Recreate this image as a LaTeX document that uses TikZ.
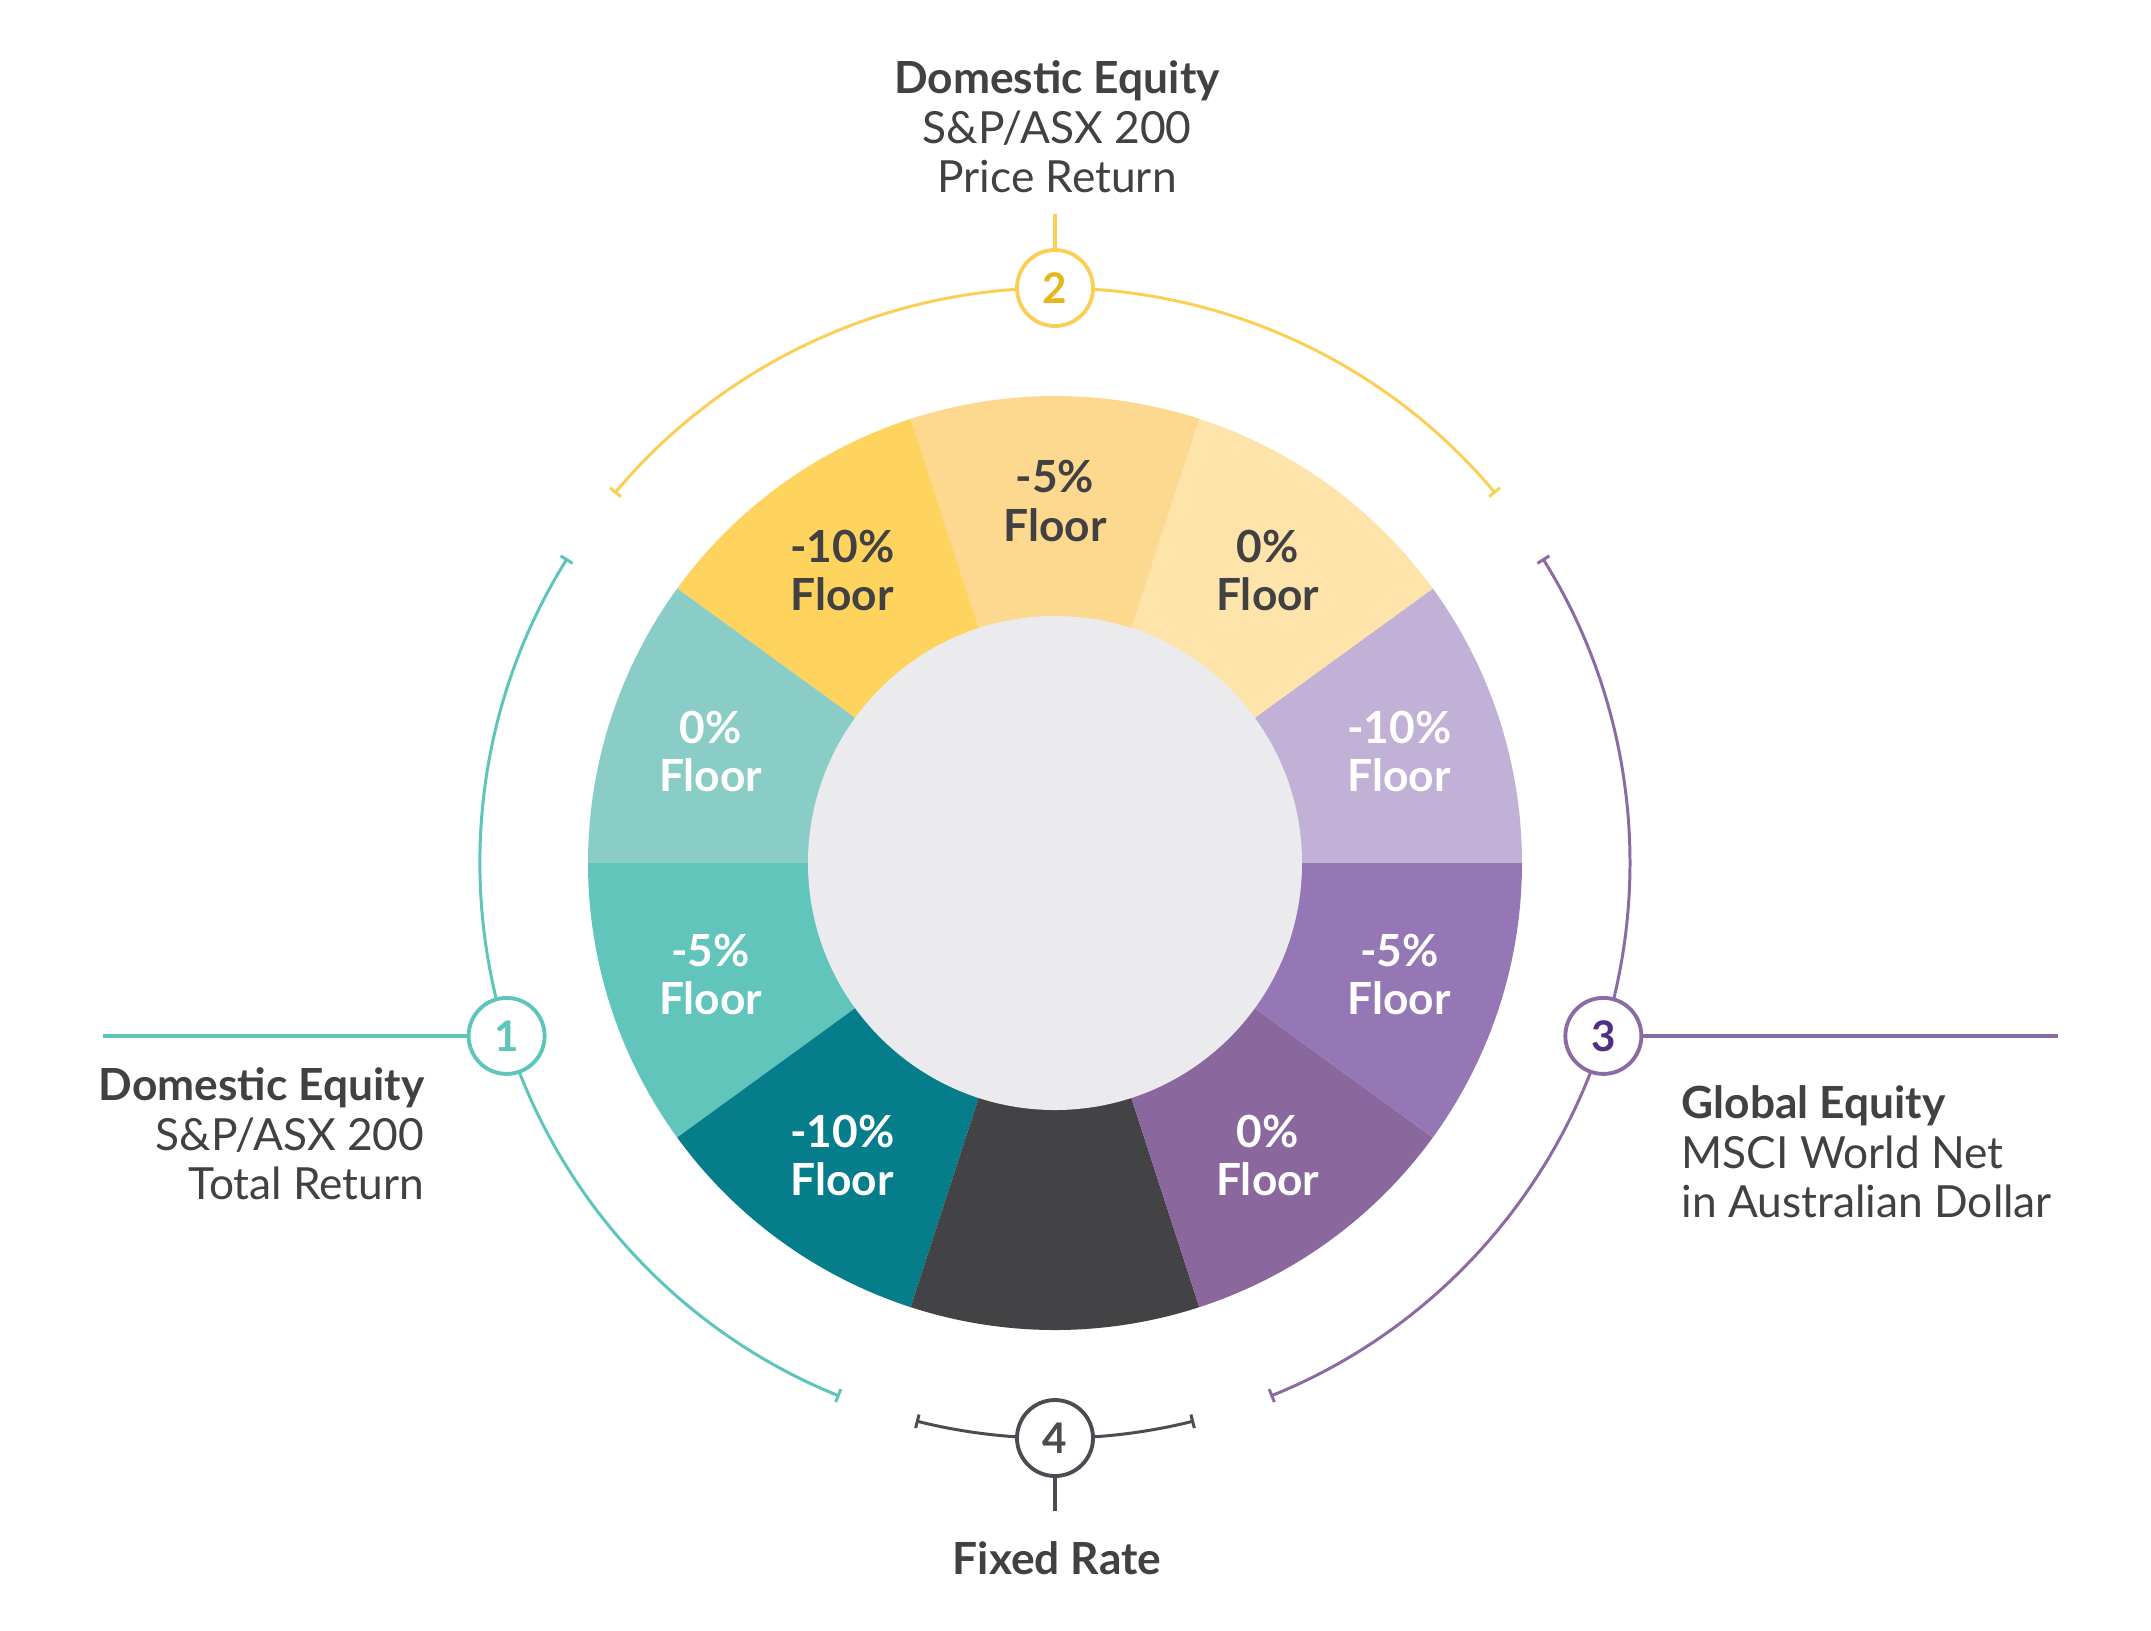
\documentclass[tikz,border=0pt]{standalone}
\usepackage{fontspec}
\setmainfont{Lato}
\usetikzlibrary{arrows.meta}

\definecolor{ink}{HTML}{414042}
\definecolor{hole}{HTML}{EBEBED}
\definecolor{tealA}{HTML}{8ACDC7}
\definecolor{tealB}{HTML}{61C5BC}
\definecolor{tealC}{HTML}{067D8B}
\definecolor{yelA}{HTML}{FED35E}
\definecolor{yelB}{HTML}{FDD88F}
\definecolor{yelC}{HTML}{FEE3AA}
\definecolor{purA}{HTML}{C1B1D6}
\definecolor{purB}{HTML}{9577B5}
\definecolor{purC}{HTML}{8A689E}
\definecolor{fixedc}{HTML}{434244}
\definecolor{tealline}{HTML}{5EC5BB}
\definecolor{yelline}{HTML}{FBCF55}
\definecolor{purline}{HTML}{8A6BA3}
\definecolor{greyline}{HTML}{4B4B52}
\definecolor{yelnum}{HTML}{E5B61E}
\definecolor{purnum}{HTML}{4F2F7F}

\begin{document}
\begin{tikzpicture}[
    seglab/.style={font=\bfseries\fontsize{12.6}{13.7}\selectfont, align=center, inner sep=0pt},
    numcirc/.style={circle, draw, fill=white, line width=1.1pt, minimum size=0.76cm, inner sep=0pt,
        font=\bfseries\fontsize{12}{13.7}\selectfont},
    bracket/.style={line width=0.85pt, {Bar[width=1.4mm]}-{Bar[width=1.4mm]}},
    lead/.style={line width=1pt},
    caption/.style={font=\fontsize{12.6}{14.1}\selectfont, text=ink, inner sep=0pt}
]

    \useasboundingbox (-10.55,-7.67) rectangle (10.96,8.63);

    \fill[purA] (0,0) -- (0:4.67) arc (0:36:4.67) -- cycle;
    \fill[yelC] (0,0) -- (36:4.67) arc (36:72:4.67) -- cycle;
    \fill[yelB] (0,0) -- (72:4.67) arc (72:108:4.67) -- cycle;
    \fill[yelA] (0,0) -- (108:4.67) arc (108:144:4.67) -- cycle;
    \fill[tealA] (0,0) -- (144:4.67) arc (144:180:4.67) -- cycle;
    \fill[tealB] (0,0) -- (180:4.67) arc (180:216:4.67) -- cycle;
    \fill[tealC] (0,0) -- (216:4.67) arc (216:252:4.67) -- cycle;
    \fill[fixedc] (0,0) -- (252:4.67) arc (252:288:4.67) -- cycle;
    \fill[purC] (0,0) -- (288:4.67) arc (288:324:4.67) -- cycle;
    \fill[purB] (0,0) -- (324:4.67) arc (324:360:4.67) -- cycle;
    \fill[hole] (0,0) circle (2.47);

    \node[seglab,text=white] (p10) at (18:3.62) {-10\%\\Floor};
    \node[seglab,text=ink] (y0) at (54:3.62) {0\%\\Floor};
    \node[seglab,text=ink] (y5) at (90:3.62) {-5\%\\Floor};
    \node[seglab,text=ink] (y10) at (126:3.62) {-10\%\\Floor};
    \node[seglab,text=white] (t0) at (162:3.62) {0\%\\Floor};
    \node[seglab,text=white] (t5) at (198:3.62) {-5\%\\Floor};
    \node[seglab,text=white] (t10) at (234:3.62) {-10\%\\Floor};
    \node[seglab,text=white] (p0) at (306:3.62) {0\%\\Floor};
    \node[seglab,text=white] (p5) at (342:3.62) {-5\%\\Floor};

    \draw[bracket,tealline] (148:5.75) arc (148:248:5.75);
    \draw[bracket,yelline] (40:5.75) arc (40:140:5.75);
    \draw[bracket,purline] (-68:5.75) arc (-68:32:5.75);
    \draw[bracket,greyline] (256:5.75) arc (256:284:5.75);

    \node[numcirc,draw=tealline,text=tealline] (n1) at (197.5:5.75) {1};
    \node[numcirc,draw=yelline,text=yelnum] (n2) at (90:5.75) {2};
    \node[numcirc,draw=purline,text=purnum] (n3) at (-17.5:5.75) {3};
    \node[numcirc,draw=greyline,text=greyline] (n4) at (270:5.75) {4};

    \coordinate (e1) at (-9.52,0);
    \coordinate (e2) at (0,6.49);
    \coordinate (e3) at (10.03,0);
    \coordinate (e4) at (0,-6.48);

    \draw[lead,tealline] (n1.west) -- (n1.west -| e1);
    \draw[lead,yelline] (n2.north) -- (n2.north |- e2);
    \draw[lead,purline] (n3.east) -- (n3.east -| e3);
    \draw[lead,greyline] (n4.south) -- (n4.south |- e4);

    \node[caption,align=right,anchor=north east] (c1) at (-6.30,-2.04)
        {\textbf{Domestic Equity}\\S\&P/ASX 200\\Total Return};
    \node[caption,align=center,anchor=north] (c2) at (0.02,8.03)
        {\textbf{Domestic Equity}\\S\&P/ASX 200\\Price Return};
    \node[caption,align=left,anchor=north west] (c3) at (6.26,-2.22)
        {\textbf{Global Equity}\\MSCI World Net\\in Australian Dollar};
    \node[caption,anchor=north] (c4) at (0.02,-6.78) {\textbf{Fixed Rate}};
\end{tikzpicture}
\end{document}
